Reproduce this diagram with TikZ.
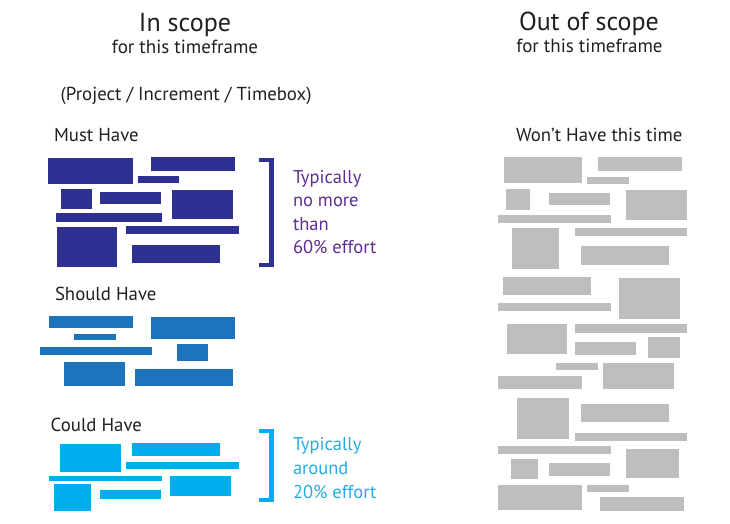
\documentclass[tikz,border=0pt]{standalone}
\usepackage{fontspec}
\setmainfont{PT Sans}
\definecolor{navy}{HTML}{2E3192}
\definecolor{purpletxt}{HTML}{5E2D91}
\definecolor{midblue}{HTML}{1C75BC}
\definecolor{cyanbox}{HTML}{00AEEF}
\definecolor{cyantxt}{HTML}{27AAE1}
\definecolor{greybox}{HTML}{BCBEC0}
\definecolor{txt}{HTML}{231F20}
\begin{document}
\begin{tikzpicture}[x=1pt,y=-1pt,
  lbl/.style={inner sep=0pt,outer sep=0pt,text=txt},
  mustbox/.style={fill=navy},
  shouldbox/.style={fill=midblue},
  couldbox/.style={fill=cyanbox},
  wontbox/.style={fill=greybox},
  brace/.style={line width=4.5pt,line cap=butt,line join=miter}]
\useasboundingbox (0,0) rectangle (730,524);
% headings
\node[lbl,anchor=base,font=\fontsize{26}{30}\selectfont] (insc) at (185,31.7) {In scope};
\node[lbl,anchor=base,font=\fontsize{19}{23}\selectfont] (inscsub) at (185,53.3) {for this timeframe};
\node[lbl,anchor=base,font=\fontsize{26}{30}\selectfont] (outsc) at (589,30.7) {Out of scope};
\node[lbl,anchor=base,font=\fontsize{19}{23}\selectfont] (outscsub) at (589.5,53) {for this timeframe};
\node[lbl,anchor=base west,font=\fontsize{18.8}{22}\selectfont] (proj) at (60.7,100.7) {(Project / Increment / Timebox)};
\node[lbl,anchor=base west,font=\fontsize{18.8}{22}\selectfont] (must) at (54,141.7) {Must Have};
\node[lbl,anchor=base west,font=\fontsize{18.8}{22}\selectfont] (should) at (55,300) {Should Have};
\node[lbl,anchor=base west,font=\fontsize{18.8}{22}\selectfont] (could) at (50.7,431.7) {Could Have};
\node[lbl,anchor=base west,font=\fontsize{18.8}{22}\selectfont] (wont) at (516,141.7) {Won’t Have this time};
% side notes
\node[lbl,anchor=base west,align=left,text=purpletxt,font=\fontsize{18.5}{23.3}\selectfont] (note60) at (293,253.3) {Typically\\no more\\than\\60\% effort};
\node[lbl,anchor=base west,align=left,text=cyantxt,font=\fontsize{18.5}{24}\selectfont] (note20) at (293,498) {Typically\\around\\20\% effort};
% brackets
\draw[brace,navy] (259,160) -- (271.7,160) -- (271.7,265) -- (259,265);
\draw[brace,cyanbox] (259,431) -- (271.7,431) -- (271.7,500) -- (259,500);
% Must Have boxes
\foreach \a/\b/\c/\d in {48/158/133/184, 151/157/235/171, 138/176/179/183, 61/189/92/209, 100/192/161/204, 172/190/233/219, 56/213/162/222, 57/227/117/267, 126/226/239/234, 132/245/220/263}
  \fill[mustbox] (\a,\b) rectangle (\c,\d);
% Should Have boxes
\foreach \a/\b/\c/\d in {49/316/133/328, 151/317/235/339, 74/334/116/340, 40/347/152/355, 177/344/208/361, 64/362/125/386, 135/369/233/386}
  \fill[shouldbox] (\a,\b) rectangle (\c,\d);
% Could Have boxes
\foreach \a/\b/\c/\d in {60/444/121/472, 132/443/220/456, 126/462/239/469, 49/476/162/481, 170/476/231/496, 54/484/91/511, 100/490/161/499}
  \fill[couldbox] (\a,\b) rectangle (\c,\d);
% Won't Have boxes
\foreach \a/\b/\c/\d in {504/157/582/183, 598/157/682/171, 587/177/629/184, 506/189/530/210, 549/193/610/205, 626/190/687/220, 498/215/611/223, 512/228/559/269, 575/228/687/236, 581/246/669/265,
  503/277/591/295, 619/278/680/319, 498/303/611/311, 507/324/567/354, 575/324/687/333, 575/342/636/355, 648/337/680/358, 556/363/598/370, 603/363/674/389, 498/376/582/389,
  517/398/569/439, 581/404/669/422, 575/433/687/441, 498/446/611/454, 626/449/679/478, 511/459/538/479, 549/463/610/476, 498/485/582/510, 587/485/629/492, 600/497/684/511}
  \fill[wontbox] (\a,\b) rectangle (\c,\d);
\end{tikzpicture}
\end{document}
